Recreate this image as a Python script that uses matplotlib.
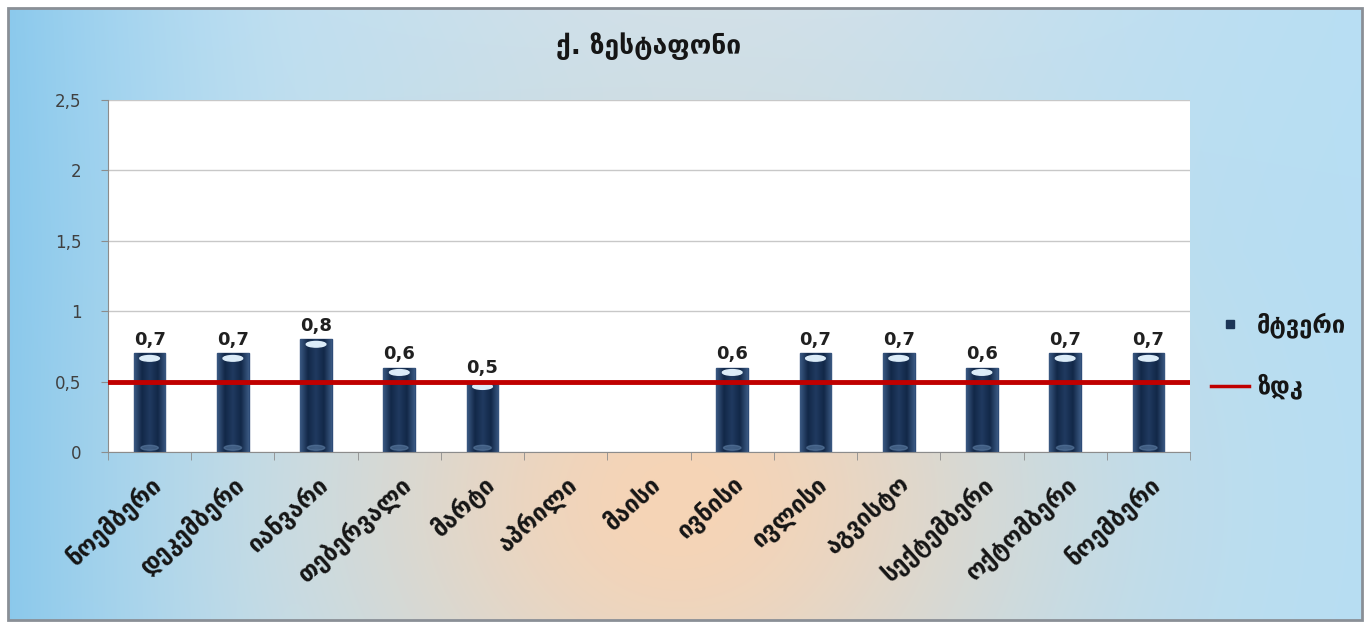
import numpy as np
import matplotlib.pyplot as plt
from matplotlib.patches import Rectangle, Ellipse
from matplotlib.lines import Line2D
from matplotlib.ticker import FuncFormatter, FixedLocator

# -----------------------------
# Dados
# -----------------------------
titulo = "ქ. ზესტაფონი"
meses = ["ნოემბერი", "დეკემბერი", "იანვარი", "თებერვალი", "მარტი", "აპრილი",
         "მაისი", "ივნისი", "ივლისი", "აგვისტო", "სექტემბერი", "ოქტომბერი", "ნოემბერი"]
poeira = [0.7, 0.7, 0.8, 0.6, 0.5, np.nan, np.nan, 0.6, 0.7, 0.7, 0.6, 0.7, 0.7]
zdk = 0.5
nome_barra = "მტვერი"
nome_linha = "ზდკ"
y_ticks = [0, 0.5, 1, 1.5, 2, 2.5]

plt.rcParams['font.family'] = ['DejaVu Sans']

W, H = 1370, 626
fig = plt.figure(figsize=(W / 100, H / 100), dpi=100)
fig.patch.set_facecolor('white')

# -----------------------------
# Fundo em degradê (azul nas bordas, pêssego no centro)
# -----------------------------
bg = fig.add_axes([0, 0, 1, 1])
bg.set_xlim(0, W)
bg.set_ylim(H, 0)
bg.axis('off')

gx, gy = np.meshgrid(np.linspace(8, 1362, 400), np.linspace(8, 620, 200))
azul = np.array([182, 222, 244]) / 255
azul_forte = np.array([125, 195, 235]) / 255
pessego = np.array([246, 212, 182]) / 255
cinza = np.array([224, 228, 232]) / 255

w_pes = np.exp(-((gx - 680) / 360) ** 2 - ((gy - 500) / 320) ** 2)
w_cin = np.clip(1 - gy / 250, 0, 1) * np.exp(-((gx - 720) / 420) ** 2) * 0.6
w_forte = np.clip(1 - (gx - 8) / 300, 0, 1) ** 1.5 * 0.8
img = azul[None, None, :] * np.ones(gx.shape + (3,))
img = img * (1 - w_forte[..., None]) + azul_forte * w_forte[..., None]
img = img * (1 - w_cin[..., None]) + cinza * w_cin[..., None]
img = img * (1 - w_pes[..., None]) + pessego * w_pes[..., None]
bg.imshow(img, extent=[8, 1362, 620, 8], aspect='auto', interpolation='bilinear')
bg.add_patch(Rectangle((8, 8), 1354, 612, fill=False, edgecolor='#8a8f96', lw=2))

# -----------------------------
# Área do gráfico
# -----------------------------
ax = fig.add_axes([108 / W, 1 - 452 / H, (1190 - 108) / W, (452 - 100) / H])
ax.set_facecolor('white')
n = len(meses)
x = np.arange(n)
ax.set_yticks(y_ticks)
ax.yaxis.set_major_formatter(FuncFormatter(lambda v, p: f"{v:g}".replace('.', ',')))
ax.grid(axis='y', color='#c8c8c8', lw=1)
ax.set_axisbelow(True)
for s in ['top', 'right']:
    ax.spines[s].set_visible(False)
for s in ['left', 'bottom']:
    ax.spines[s].set_color('#8c8c8c')
ax.tick_params(axis='y', length=5, color='#8c8c8c', labelsize=12, labelcolor='#404040', pad=14)
ax.set_xticks(x)
ax.set_xticklabels(meses, rotation=42, ha='right', rotation_mode='anchor',
                   fontsize=17, fontweight='bold', color='#151515')
ax.tick_params(axis='x', which='major', length=0, pad=14)
ax.xaxis.set_minor_locator(FixedLocator(np.arange(-0.5, n, 1)))
ax.tick_params(axis='x', which='minor', length=6, color='#8c8c8c')

# barras com sombreado cilíndrico
largura = 0.38
grad = np.array([0.0, 0.25, 0.5, 0.75, 1.0])
tons = np.array([[58, 88, 130], [18, 40, 72], [32, 58, 96], [18, 40, 72], [58, 88, 130]]) / 255
xs = np.linspace(0, 1, 64)
faixa = np.stack([np.interp(xs, grad, tons[:, k]) for k in range(3)], axis=-1)[None, :, :]

barras = ax.bar(x, poeira, width=largura, color='#1c3557', edgecolor='#2e4c78', lw=1, zorder=2)
for xi, v, b in zip(x, poeira, barras):
    if np.isnan(v):
        continue
    im = ax.imshow(faixa, extent=[xi - largura / 2, xi + largura / 2, 0, v],
                   aspect='auto', zorder=2.1, interpolation='bilinear')
    im.set_clip_path(b)
    ax.add_patch(Ellipse((xi, v - 0.035), largura * 0.62, 0.04, color='#dcecf8', zorder=2.2))
    ax.add_patch(Ellipse((xi, 0.03), largura * 0.55, 0.035, color='#5a7aa0', alpha=0.6, zorder=2.2))
    ax.text(xi, v + 0.03, f"{v:.1f}".replace('.', ','), ha='center', va='bottom',
            fontsize=13, fontweight='bold', color='#202020', zorder=3)

ax.axhline(zdk, color='#c00000', lw=3.5, zorder=4)
ax.set_xlim(-0.5, n - 0.5)
ax.set_ylim(0, 2.5)

# título
fig.text(649 / W, 1 - 46 / H, titulo, ha='center', va='center',
         fontsize=19, fontweight='bold', color='#151515')

# legenda
handles = [Line2D([], [], marker='s', ls='none', markersize=6, color='#1c3557'),
           Line2D([], [], color='#c00000', lw=2.5)]
fig.legend(handles, [nome_barra, nome_linha], loc='center left',
           bbox_to_anchor=(1190 / W, 1 - 356 / H), frameon=False,
           prop={'size': 17, 'weight': 'bold'}, labelspacing=1.5,
           handlelength=1.6, handletextpad=0.35, labelcolor='#151515')

fig.savefig('out.png', dpi=100)
